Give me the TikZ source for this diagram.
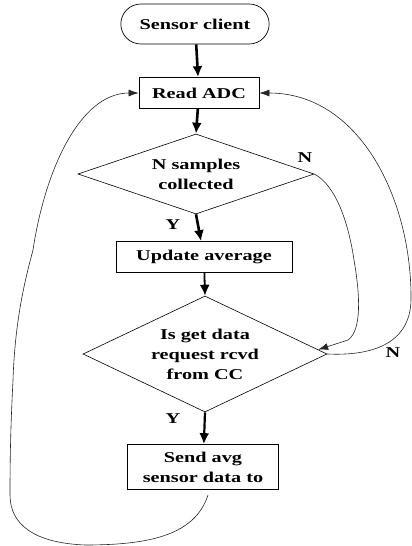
\documentclass[tikz,border=0pt]{standalone}
\usepackage{fontspec}
\setmainfont{Liberation Serif}[FakeStretch=1.35]
\usetikzlibrary{arrows.meta,shapes.geometric,shapes.misc,calc}
\tikzset{
  >={Latex[length=11pt,width=10pt]},
  {chart text/.style} ={font=\fontsize{15}{20}\selectfont\bfseries, align=center},
  {start box/.style} ={rounded rectangle, draw, line width=0.7pt, chart text,
                       minimum width=155pt, minimum height=40pt},
  {step box/.style} ={rectangle, draw, line width=0.7pt, chart text, inner sep=0},
  {decision/.style} ={diamond, draw, line width=0.6pt, chart text, inner sep=0},
  {flow/.style} ={draw, ->, line width=2.6pt},
  {back edge/.style} ={draw, line width=0.6pt, black!85,
                       -{Latex[length=10pt,width=7pt]}},
  {yn/.style} ={font=\fontsize{15}{20}\selectfont\bfseries},
}

\begin{document}
\begin{tikzpicture}[x=1pt,y=-1pt]
\useasboundingbox (0,0) rectangle (412,546);
% blocks
\node[start box] (start) at (195,24) {Sensor client};
\node[step box, minimum width=120pt, minimum height=31pt] (readadc) at (199,93) {Read ADC};
\node[decision, shape aspect=3, minimum width=236pt, minimum height=80pt]
      (samples) at (196,174) {N samples\\collected};
\node[step box, minimum width=176pt, minimum height=31pt] (update) at (204,257) {Update average};
\node[decision, shape aspect=2.1, minimum width=244pt, minimum height=116pt]
      (request) at (205,354) {Is get data\\request rcvd\\from CC};
\node[step box, minimum width=151pt, minimum height=45pt] (send) at (203,467) {Send avg\\sensor data to};
% labels
\node[yn] (nsamp) at (305,158) {N};
\node[yn] (ysamp) at (173,225) {Y};
\node[yn] (yreq) at (173,419) {Y};
\node[yn] (nreq) at (393,353) {N};
% main flow
\path[flow] (start) -- (readadc);
\path[flow] (readadc) -- (samples.north);
\path[flow] (samples.south) -- (update);
\path[flow, line width=1.8pt] (update) -- (request.north);
\path[flow, line width=2.2pt] (request.south) -- (send);
% loops back
\coordinate (loopstart) at (208,495);
\coordinate (hit) at ($(request.north east)!.85!(request.east)$);
\path[back edge] (loopstart) .. controls (195,535) and (150,545) .. (85,545)
      .. controls (35,543) and (10,525) .. (10,495)
      .. controls (10,450) and (11,420) .. (13,380)
      .. controls (15,320) and (25,280) .. (33,250)
      .. controls (45,170) and (80,93) .. (readadc.west);
\path[back edge] (samples.east) .. controls (335,185) and (348,220) .. (354,260)
      .. controls (360,295) and (362,330) .. (348,340)
      -- (hit);
\path[back edge] (request.east) .. controls (370,356) and (410,345) .. (411,300)
      .. controls (412,200) and (360,93) .. (readadc.east);
\end{tikzpicture}
\end{document}
